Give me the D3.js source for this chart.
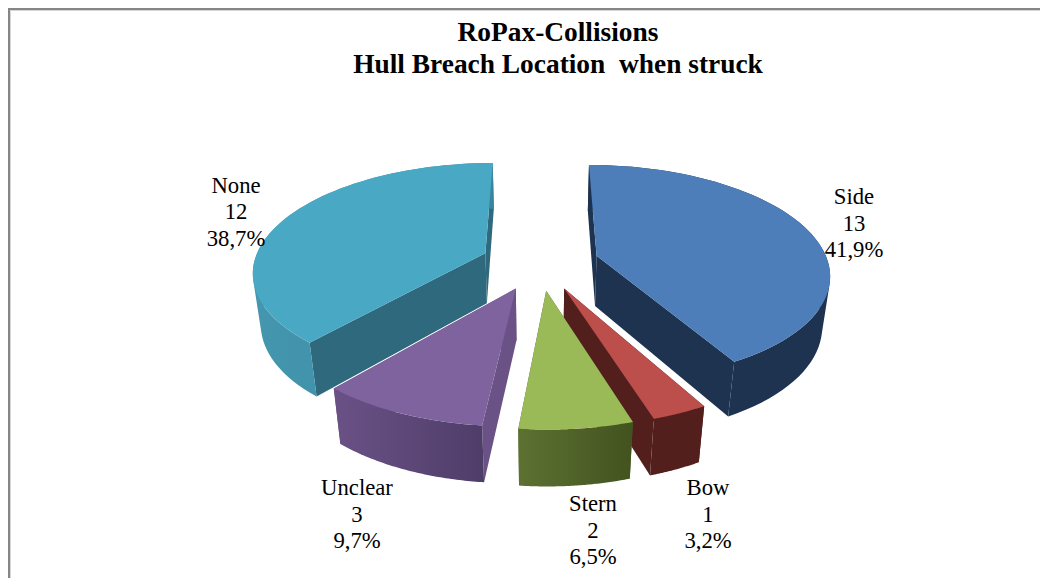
<!DOCTYPE html>
<html>
<head>
<meta charset="utf-8">
<script src="https://cdn.jsdelivr.net/npm/d3@7"></script>
<style>
  html, body { margin: 0; padding: 0; background: #fff; }
  svg { display: block; }
  text { font-family: "Liberation Serif", "Times New Roman", serif; fill: #000; }
</style>
</head>
<body>
<div id="chart"></div>
<script>
// Incident counts per breach location, clockwise from twelve o'clock.
const categories = ["Side", "Bow", "Stern", "Unclear", "None"];
const counts = [13, 1, 2, 3, 12];
const percentLabels = ["41,9%", "3,2%", "6,5%", "9,7%", "38,7%"];
const titleLines = ["RoPax-Collisions", "Hull Breach Location  when struck"];
const topColors = ["#4d7eba", "#bc4f4b", "#9aba58", "#7f639f", "#49a9c4"];
const wallStart = ["#1e3350", "#521f1d", "#5d7132", "#6a5186", "#4497af"];
const wallEnd = ["#1e3350", "#521f1d", "#42531f", "#4f3d69", "#3a859e"];
const cutColors = ["#1e3350", "#521f1d", "#4c5f28", "#6a5186", "#2f697d"];
const labelAnchors = [[854, 204], [708, 495], [593, 511], [357, 495], [236, 192.5]];

const width = 1040, height = 578;

// Ground-plane projection: a unit pie seen from above with perspective.
const view = { cx: 540, cy: 262.5, A: 231.5, B: 107, C: 52, p: 0.157, q: 0.028, explode: 0.255 };
function project(X, Y, Z) {
  const w = 1 - view.p * Y + view.q * Z;
  return [view.cx + view.A * X / w, view.cy + (view.B * Y + view.C * Z) / w];
}

const svg = d3.select("#chart").append("svg").attr("width", width).attr("height", height);
const defs = svg.append("defs");
svg.append("rect").attr("width", width).attr("height", height).attr("fill", "#fff");

const line = d3.line();

// Chart frame: only the left and top edges fall inside the page.
svg.append("path")
  .attr("d", line([[10.5, height], [10.5, 10.5], [width, 10.5]]))
  .attr("fill", "none").attr("stroke", "#d6d6d6").attr("stroke-width", 1);
svg.append("path")
  .attr("d", line([[9, height], [9, 9], [width, 9]]))
  .attr("fill", "none").attr("stroke", "#868686").attr("stroke-width", 2);

const pie = d3.pie().sort(null).startAngle(0).endAngle(2 * Math.PI)
  .value(d => d.count);
const slices = pie(categories.map((name, i) => ({ name, count: counts[i], i })));

function sliceGeometry(s) {
  const mid = (s.startAngle + s.endAngle) / 2;
  const ox = view.explode * Math.sin(mid), oy = -view.explode * Math.cos(mid);
  const steps = d3.range(0, 61).map(k => d3.interpolateNumber(s.startAngle, s.endAngle)(k / 60));
  const rim = steps.map(a => [ox + Math.sin(a), oy - Math.cos(a)]);
  return { apex: [ox, oy], rim };
}

// Paint back slices first so front ones overlap them.
const order = [4, 0, 3, 1, 2];
const layer = svg.append("g");

order.forEach(idx => {
  const s = slices[idx];
  const g = sliceGeometry(s);
  const up = ([x, y]) => project(x, y, 0);
  const down = ([x, y]) => project(x, y, 1);
  const top = g.rim.map(up);
  const bottom = g.rim.map(down);

  const xExtent = d3.extent(top.concat(bottom), d => d[0]);
  const gradId = "outer-wall-" + idx;
  const grad = defs.append("linearGradient").attr("id", gradId)
    .attr("gradientUnits", "userSpaceOnUse")
    .attr("x1", xExtent[0]).attr("x2", xExtent[1]).attr("y1", 0).attr("y2", 0);
  grad.append("stop").attr("offset", 0).attr("stop-color", wallStart[idx]);
  grad.append("stop").attr("offset", 1).attr("stop-color", wallEnd[idx]);

  const group = layer.append("g").attr("class", "slice " + categories[idx]);

  // Radial cut faces.
  [g.rim[0], g.rim[g.rim.length - 1]].forEach(edge => {
    group.append("path")
      .attr("d", line([up(g.apex), up(edge), down(edge), down(g.apex)]) + "Z")
      .attr("fill", cutColors[idx]);
  });
  // Outer curved wall: one hull per rim step, all wound the same way,
  // so the silhouette stays tangent where the wall turns out of sight.
  const wallPath = d3.pairs(d3.range(top.length)).map(([a, b]) =>
    line(d3.polygonHull([top[a], top[b], bottom[b], bottom[a]])) + "Z").join("");
  group.append("path").attr("d", wallPath).attr("fill", `url(#${gradId})`);
  // Top face.
  group.append("path")
    .attr("d", line([up(g.apex), ...top]) + "Z")
    .attr("fill", topColors[idx]);
});

// Title.
svg.append("g").selectAll("text").data(titleLines).join("text")
  .attr("x", 558).attr("y", (d, i) => 41 + i * 32)
  .attr("text-anchor", "middle")
  .attr("font-size", 27.4).attr("font-weight", "bold")
  .style("white-space", "pre").attr("xml:space", "preserve")
  .text(d => d);

// Data labels: name, count, percentage.
const labels = svg.append("g").selectAll("g").data(slices).join("g")
  .attr("transform", (d, i) => `translate(${labelAnchors[i]})`);
labels.selectAll("text")
  .data((d, i) => [categories[i], String(counts[i]), percentLabels[i]])
  .join("text")
  .attr("y", (d, i) => i * 26.5)
  .attr("text-anchor", "middle")
  .attr("font-size", 22.7)
  .text(d => d);
</script>
</body>
</html>
